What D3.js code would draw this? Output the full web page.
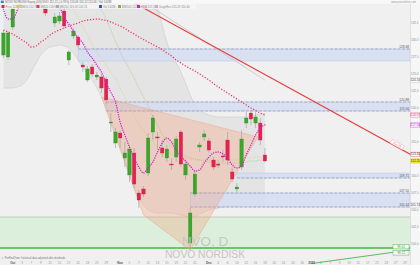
<!DOCTYPE html>
<html><head><meta charset="utf-8">
<script src="https://cdn.jsdelivr.net/npm/d3@7"></script>
<style>html,body{margin:0;padding:0;background:#f0f0f0;overflow:hidden}svg{display:block;font-family:"Liberation Sans",Arial,sans-serif}</style>
</head><body><svg id="c" width="420" height="265"></svg>
<script>
// ---- data (daily candles, index = trading-day slot) ----
const opens  = [127.79,127.5,131.91,null,null,null,null,null,null,134.56,null,132.5,132.79,134.26,127.06,130.59,130.44,126.32,124.12,126.03,124.56,124.56,124.26,117.79,114.85,116.32,112.65,110.15,113.38,107.5,108.09,110.44,116.47,115.74,114.12,112.65,111.76,112.79,116.47,110.15,100.15,107.35,114.26,115.74,115.15,112.35,111.76,112.94,115.29,110.59,108.09,111.32,117.79,119.26,117.79,117.79,113.09];
const highs  = [131.47,131.32,134.85,null,null,null,null,null,null,134.85,null,133.97,134.12,134.56,128.53,131.76,130.74,126.76,126.18,126.47,125.29,125.0,124.56,119.26,117.06,116.76,115.0,114.56,114.12,107.94,108.53,116.32,118.97,116.47,115.29,114.56,112.65,115.88,116.76,112.35,105.29,110.88,115.0,116.76,115.59,112.79,112.35,113.82,116.47,111.18,108.97,116.76,119.41,119.71,119.41,118.53,114.12];
const lows   = [127.35,127.06,131.47,null,null,null,null,null,null,133.53,null,131.91,132.35,131.62,126.32,130.15,128.82,125.29,123.82,124.56,124.12,122.21,120.59,116.47,114.12,114.12,111.32,109.12,108.24,105.29,106.91,110.0,115.29,113.82,112.79,112.06,110.88,112.06,111.32,109.41,99.12,106.91,113.53,115.15,113.38,110.88,111.18,112.06,111.62,109.12,107.65,110.88,117.06,117.5,117.06,114.56,112.06];
const closes = [131.03,131.03,134.56,null,null,null,null,null,null,133.97,null,133.38,133.53,132.06,128.24,131.32,129.26,126.03,125.74,125.0,124.85,122.94,121.18,117.94,116.47,115.59,113.38,113.97,108.82,106.47,107.35,115.59,118.53,115.59,113.38,113.97,111.62,115.44,111.76,111.76,104.56,110.29,114.56,116.18,113.82,111.32,111.6,112.79,112.35,109.56,108.38,115.44,118.53,118.38,118.68,115.29,112.21];

// indicators
const maRed = [131.47,131.18,130.88,130.44,130.0,129.56,128.97,129.12,129.71,130.15,130.74,131.18,131.47,131.76,132.06,132.28,132.5,132.79,132.94,133.01,133.09,133.01,132.87,132.65,132.35,132.06,131.69,131.25,130.88,130.44,130.07,129.71,129.34,128.97,128.6,128.09,127.65,127.06,126.62,126.18,125.81,125.44,125.0,124.56,124.12,123.6,123.09,122.65,122.21,121.76,121.32,120.88,120.44,120.0,119.63,119.26,118.97];
const maMagenta = [134.56,133.09,133.09,134.41,135.74,null,null,null,null,null,null,null,135.0,133.38,132.35,131.32,130.29,129.56,128.24,127.35,126.32,125.29,123.68,122.35,120.88,117.94,116.03,114.26,112.65,111.32,110.44,111.18,112.06,113.53,114.85,115.59,115.0,113.82,112.94,112.21,111.47,110.74,110.88,111.91,112.79,113.38,113.53,113.24,112.65,111.62,111.18,111.47,113.09,114.56,116.03,117.06,117.5];
const maYellow = [null,null,null,null,null,null,null,null,null,null,null,null,null,136.47,135.44,134.41,133.24,131.91,130.74,129.41,128.24,127.21,126.32,125.29,124.41,122.94,121.62,120.44,118.97,117.65,116.62,115.74,115.0,114.41,113.97,113.53,113.24,112.94,112.79,112.65,112.5,112.35,112.35,112.35,112.35,112.35,112.35,112.35,112.35,112.35,112.35,112.5,112.65,112.65,112.79,112.79,112.79];
const maOlive = [null,null,null,null,null,null,null,null,null,null,null,null,null,null,null,null,null,null,null,null,135.59,134.41,133.09,131.47,129.85,128.24,126.91,125.74,124.41,122.94,121.62,120.29,118.82,117.5,116.18,115.15,114.41,113.82,113.38,112.94,112.65,112.5,112.35,112.21,112.06,112.06,111.91,111.91,111.91,111.91,111.91,112.06,112.06,112.21,112.21,112.35,112.35];
const bandUpper = [140.5,140.8,141.0,141.2,141.3,141.2,141.0,140.6,140.2,139.8,139.5,139.3,139.2,139.1,139.0,138.9,138.8,138.7,138.6,138.5,138.4,138.3,138.2,138.1,138.0,137.9,137.8,137.6,137.4,137.1,136.7,136.3,135.88,134.71,132.21,129.71,127.79,126.62,125.29,123.68,121.91,120.59,119.71,119.26,118.97,118.82,118.68,118.68,118.68,118.68,118.68,118.68,118.68,118.82,118.97,119.12,119.26];
const bandLower = [122.94,122.94,122.94,123.09,123.38,124.12,125.29,126.62,127.79,128.53,128.97,129.12,129.26,129.12,128.82,128.09,127.06,126.03,125.0,124.12,122.94,121.62,120.0,118.24,116.32,114.26,112.21,110.15,108.24,106.76,105.74,105.0,104.71,104.56,104.56,104.56,104.56,104.41,104.26,104.12,103.82,103.97,104.41,104.71,105.0,105.15,105.29,105.44,105.59,105.59,105.59,105.74,105.74,105.74,105.74,105.74,105.74];

// drawings: [index, price] pairs
const redTrend   = [[25,136.6],[87.1,113.2]];
const grayTrend  = [[30,135.6],[56,124.1]];
const greenTrend = [[66,97.13],[87.1,99.12]];
const patternPts = [[21,121.62],[54.5,115.74],[40,99.12],[30,104.26]];
// zones: start index, high, low, dashed top, dashed bottom
const zoneStart = [16,22,50,40];
const zoneHigh  = [128.68,120.88,110.44,107.5];
const zoneLow   = [126.91,119.56,109.71,105.44];
const zoneDashTop = [true,true,false,true];
const zoneDashBot = [false,true,true,true];
const greenZone = [99.41,103.97];

// axis tick labels
const yTicks = [100,102.5,105,107.5,110,112.5,115,117.5,120,122.5,125,127.5,130,132.5];
const xTickIdx = [2,4,6,8,10,12,14,16,18,20,22,25,27,29,31,33,35,37,39,41,44,46,48,50,52,54,56,58,60,62,64,66,68,70,72,74,76,78,80,82,84,86];
const xTickLab = ["Oct","3","7","9","11","15","17","21","23","25","29","Nov","5","7","11","13","15","19","21","25","Dec","4","6","10","12","16","18","20","24","26","30","2025","3","7","9","13","15","17","21","23","27","29"];
const legendNames  = ["Price 112.21","MM50 112.79","MM20 118.97","BB(20) 119.26 105.74","Vol 3.62M","MM100 112.35","HMA 117.50","Supp/Res 115.29 110.44"];
const legendColors = ["#e8204f","#d8cc40","#f03060","#aaaaaa","#3050e0","#a8a040","#d020d0","#d8a0d8"];

// ---- drawing ----
const svg = d3.select('#c');
const x = d3.scaleLinear().domain([0,87]).range([3.4, 3.4+87*4.67]);
const y = d3.scaleLinear().domain([97,135]).range([264.4,6]);
const idx = d3.range(opens.length);

svg.append('rect').attr('width',420).attr('height',265).attr('fill','#f0f0f0');
svg.append('defs').append('clipPath').attr('id','pc').append('rect').attr('x',0).attr('y',3.5).attr('width',410).attr('height',262);
const g = svg.append('g').attr('clip-path','url(#pc)');

// bollinger cloud
g.append('path').datum(idx)
  .attr('d', d3.area().x(i=>x(i)).y0(i=>y(bandLower[i])).y1(i=>y(bandUpper[i])).curve(d3.curveMonotoneX))
  .attr('fill','#e4e4e4');
[bandUpper,bandLower].forEach(b=>{
  g.append('path').datum(idx).attr('d', d3.line().x(i=>x(i)).y(i=>y(b[i])).curve(d3.curveMonotoneX))
   .attr('fill','none').attr('stroke','#cdcdcd').attr('stroke-width',0.6);
});

// green zone
g.append('rect').attr('x',0).attr('width',410).attr('y',y(greenZone[1])).attr('height',y(greenZone[0])-y(greenZone[1])).attr('fill','#dcefdc');
g.append('line').attr('x1',0).attr('x2',410).attr('y1',y(greenZone[1])).attr('y2',y(greenZone[1])).attr('stroke','#b4c4b4').attr('stroke-width',0.8);
g.append('line').attr('x1',0).attr('x2',410).attr('y1',y(greenZone[0])).attr('y2',y(greenZone[0])).attr('stroke','#6cc46c').attr('stroke-width',2);

// blue zones
zoneStart.forEach((s,k)=>{
  const x0 = x(s);
  g.append('rect').attr('x',x0).attr('width',410-x0).attr('y',y(zoneHigh[k])).attr('height',y(zoneLow[k])-y(zoneHigh[k]))
    .attr('fill','#d4ddf2').attr('fill-opacity',0.85).attr('stroke','#b8c6e6').attr('stroke-width',0.5);
  [[zoneHigh[k],zoneDashTop[k]],[zoneLow[k],zoneDashBot[k]]].forEach(([v,d])=>{
    if(!d) return;
    g.append('line').attr('x1',x0).attr('x2',410).attr('y1',y(v)).attr('y2',y(v))
      .attr('stroke','#8e9ab4').attr('stroke-width',0.7).attr('stroke-dasharray','3,1.5');
    g.append('text').attr('x',409).attr('y',y(v)-0.8).attr('text-anchor','end').attr('font-size',3.2).attr('fill','#556').text(v.toFixed(2));
  });
});

// pattern
g.append('path').datum(patternPts)
  .attr('d', d3.line().x(d=>x(d[0])).y(d=>y(d[1])).curve(d3.curveLinearClosed))
  .attr('fill','#f4a07a').attr('fill-opacity',0.33).attr('stroke','#eaa890').attr('stroke-width',0.5);

// watermark
svg.append('text').attr('x',205).attr('y',245.5).attr('text-anchor','middle').attr('font-size',13.5).attr('fill','#c3c8c3').text('NVO, D');
svg.append('text').attr('x',205).attr('y',258.3).attr('text-anchor','middle').attr('font-size',10.3).attr('fill','#c6c6c6').text('NOVO NORDISK');

// trend lines
const tl = d3.line().x(d=>x(d[0])).y(d=>y(d[1]));
g.append('path').attr('d',tl(grayTrend)).attr('stroke','#c4c4c4').attr('stroke-width',0.8).attr('fill','none');
g.append('path').attr('d',tl(redTrend)).attr('stroke','#e83a3a').attr('stroke-width',1.1).attr('fill','none');
g.append('path').attr('d',tl(greenTrend)).attr('stroke','#5cb85c').attr('stroke-width',1).attr('fill','none');

// yellow MAs
const ml = arr => d3.line().defined(i=>arr[i]!=null).x(i=>x(i)).y(i=>y(arr[i])).curve(d3.curveMonotoneX);
g.append('path').datum(idx).attr('d',ml(maYellow)).attr('fill','none').attr('stroke','#dcd060').attr('stroke-width',0.6).attr('stroke-dasharray','1,1');
g.append('path').datum(idx).attr('d',ml(maOlive)).attr('fill','none').attr('stroke','#bcb070').attr('stroke-width',0.6).attr('stroke-dasharray','1,1');

// candles
const cd = idx.filter(i=>opens[i]!=null);
g.append('g').selectAll('line').data(cd).join('line')
  .attr('x1',i=>x(i)).attr('x2',i=>x(i)).attr('y1',i=>y(highs[i])).attr('y2',i=>y(lows[i]))
  .attr('stroke','#a6a6a6').attr('stroke-width',0.7);
g.append('g').selectAll('rect').data(cd).join('rect')
  .attr('x',i=>x(i)-1.7).attr('width',3.4)
  .attr('y',i=>y(Math.max(opens[i],closes[i])))
  .attr('height',i=>Math.max(0.9,Math.abs(y(opens[i])-y(closes[i]))))
  .attr('fill',i=>closes[i]>=opens[i]?'#3aa62a':'#e8204f')
  .attr('stroke',i=>closes[i]>=opens[i]?'#2e8a22':'#c01840').attr('stroke-width',0.3);

// dotted MAs
g.append('path').datum(idx).attr('d',ml(maRed)).attr('fill','none').attr('stroke','#f03462').attr('stroke-width',1.3).attr('stroke-dasharray','1.2,1.7');
g.append('path').datum(idx).attr('d',ml(maMagenta)).attr('fill','none').attr('stroke','#d21ed2').attr('stroke-width',1.4).attr('stroke-linecap','round').attr('stroke-dasharray','0.01,2.3');

// label on red trend line
{
  const li = 84.3, lp = redTrend[0][1] + (redTrend[1][1]-redTrend[0][1])*(li-redTrend[0][0])/(redTrend[1][0]-redTrend[0][0]);
  const ang = Math.atan2(y(redTrend[1][1])-y(redTrend[0][1]), x(redTrend[1][0])-x(redTrend[0][0]))*180/Math.PI;
  const lg = g.append('g').attr('transform',`translate(${x(li)},${y(lp)-2.5}) rotate(${ang})`);
  lg.append('rect').attr('x',-7).attr('y',-2.2).attr('width',14).attr('height',4.2).attr('fill','#fff').attr('stroke','#f0a0a0').attr('stroke-width',0.4);
  lg.append('text').attr('y',1.1).attr('text-anchor','middle').attr('font-size',3).attr('fill','#e05050').text(lp.toFixed(2));
}

// green labels
[[greenZone[0],246.8],[greenTrend[1][1],253]].forEach(([v,yy])=>{
  svg.append('rect').attr('x',393).attr('y',yy-2.3).attr('width',16).attr('height',4.4).attr('fill','#f4fbf4').attr('stroke','#5cb85c').attr('stroke-width',0.5);
  svg.append('text').attr('x',401).attr('y',yy+1.1).attr('text-anchor','middle').attr('font-size',3.1).attr('fill','#3a9a3a').text(v.toFixed(2));
});

// right axis
svg.append('rect').attr('x',410).attr('y',0).attr('width',10).attr('height',265).attr('fill','#f6f6f6');
svg.append('line').attr('x1',410.5).attr('x2',410.5).attr('y1',0).attr('y2',265).attr('stroke','#d0d0d0').attr('stroke-width',0.6);
const boxes = [
  [grayTrend[1][1],'#fff','#bbb','#333'],
  [maRed[maRed.length-1],'#fff','#f05080','#e02050'],
  [maMagenta[maMagenta.length-1],'#fff','#d020d0','#b010b0'],
  [redTrend[1][1],'#fff','#e84a4a','#333'],
  [closes[closes.length-1],'#f4ea30','#d8c820','#222'],
  [bandLower[bandLower.length-1],'#fff','#bbb','#333']
];
const freeTicks = yTicks.filter(v=>boxes.every(b=>Math.abs(y(b[0])-y(v))>5));
svg.append('g').selectAll('text').data(freeTicks).join('text')
  .attr('x',418.5).attr('y',v=>y(v)+1).attr('text-anchor','end').attr('font-size',3).attr('fill','#8a8a8a').text(v=>v.toFixed(1));
boxes.forEach(([v,f,s,t])=>{
  svg.append('rect').attr('x',410.8).attr('y',y(v)-2.1).attr('width',9).attr('height',4.2).attr('fill',f).attr('stroke',s).attr('stroke-width',0.4);
  svg.append('text').attr('x',415.3).attr('y',y(v)+1.1).attr('text-anchor','middle').attr('font-size',3).attr('fill',t).text(v.toFixed(2));
});

// x axis labels
const isMajor = k => isNaN(+xTickLab[k]) || xTickLab[k]==='2025';
svg.append('g').selectAll('text').data(xTickIdx).join('text')
  .attr('x',i=>x(i)).attr('y',263.6).attr('text-anchor','middle').attr('font-size',3.1)
  .attr('fill',(i,k)=>isMajor(k)?'#555':'#999')
  .attr('font-weight',(i,k)=>isMajor(k)?'bold':'normal')
  .text((i,k)=>xTickLab[k]);
svg.append('text').attr('x',1).attr('y',259).attr('font-size',2.6).attr('fill','#777').text('\u270E ProRealTime: historical data adjusted after dividends');

// header
svg.append('rect').attr('x',0).attr('y',0).attr('width',420).attr('height',3.8).attr('fill','#f8f8f8');
svg.append('rect').attr('x',0.8).attr('y',0.6).attr('width',3).attr('height',2.5).attr('fill','#3b82c4');
svg.append('text').attr('x',5).attr('y',2.8).attr('font-size',2.8).attr('fill','#666')
  .text('NOVO NORDISK Equity (US) NVO 112.21 (-0.78%) 113.09 114.12 112.06 / Vol 3.62M');
svg.append('text').attr('x',416).attr('y',2.8).attr('text-anchor','end').attr('font-size',2.6).attr('fill','#999').text('www.prorealtime.com');

// legend row
const legX = [1.5,16.5,36.5,56,99,118,137,155];
const lgG = svg.append('g');
lgG.append('rect').attr('x',0).attr('y',4.2).attr('width',196).attr('height',4.6).attr('fill','#f7f7f7').attr('fill-opacity',0.85);
legX.forEach((lx,k)=>{
  lgG.append('rect').attr('x',lx).attr('y',5).attr('width',3).attr('height',3).attr('fill',legendColors[k]);
  lgG.append('text').attr('x',lx+4).attr('y',7.7).attr('font-size',2.8).attr('fill','#8a8a8a').text(legendNames[k]);
});
</script></body></html>
